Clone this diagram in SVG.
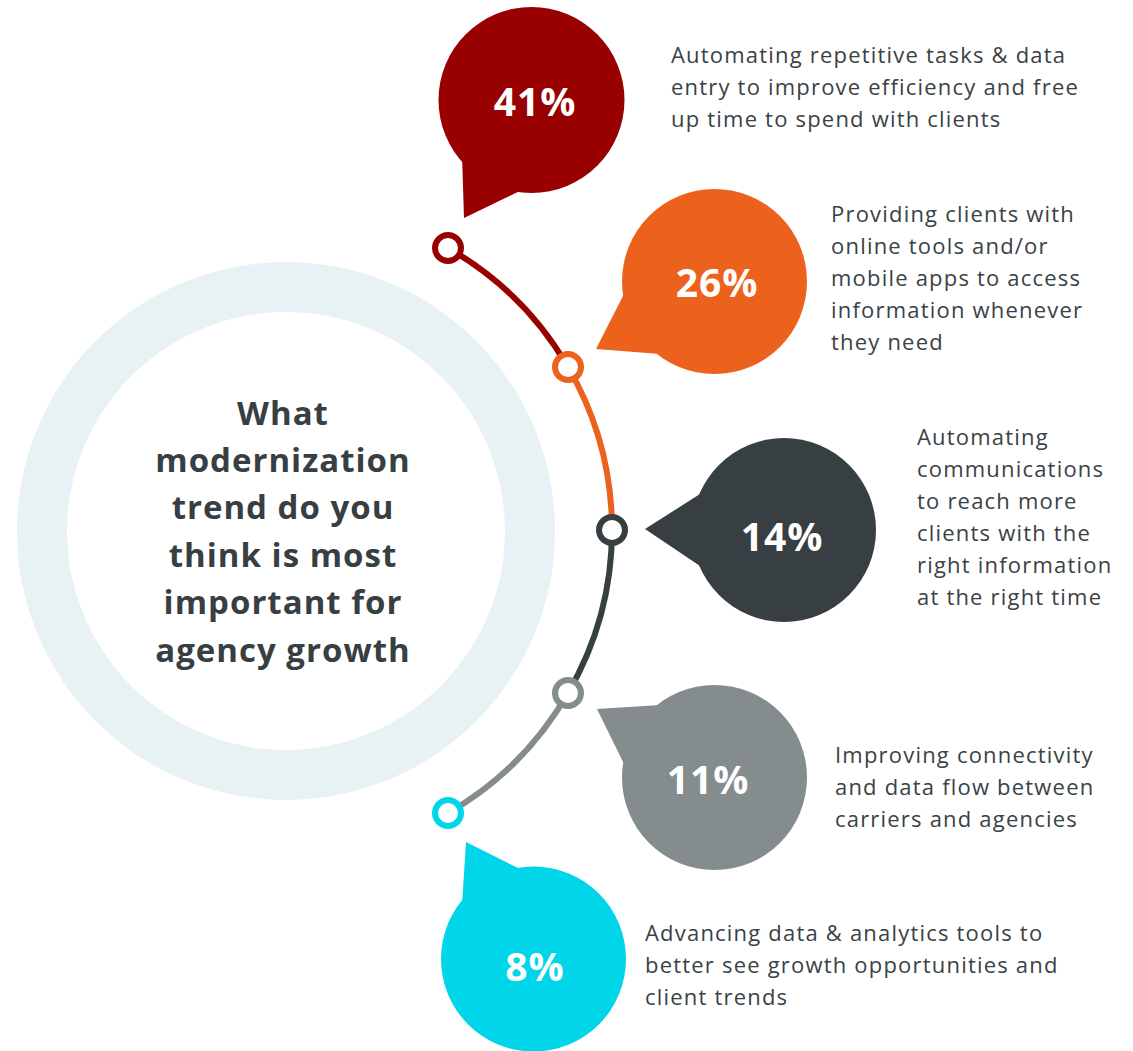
<svg xmlns="http://www.w3.org/2000/svg" width="1133" height="1051" viewBox="0 0 1133 1051">
<style>
.q{font-family:"Open Sans","Liberation Sans",sans-serif;font-weight:700;font-size:33px;letter-spacing:1px;fill:#373f42;text-anchor:middle}
.pct{font-family:"Open Sans","Liberation Sans",sans-serif;font-weight:700;font-size:39px;letter-spacing:1px;fill:#ffffff;text-anchor:middle}
.d{font-family:"Open Sans","Liberation Sans",sans-serif;font-size:22px;letter-spacing:1.2px;fill:#3a4245}
.node{fill:#ffffff;stroke-width:6}
.seg{fill:none;stroke-width:6}
</style>
<rect width="1133" height="1051" fill="#ffffff"/>
<g id="center-ring">
<circle cx="286" cy="531" r="244" fill="none" stroke="#e8f1f4" stroke-width="50"/>
<text class="q"><tspan x="283" y="425">What</tspan><tspan x="283" y="472">modernization</tspan><tspan x="283" y="519">trend do you</tspan><tspan x="283" y="567">think is most</tspan><tspan x="283" y="614">important for</tspan><tspan x="283" y="662">agency growth</tspan></text>
</g>
<g id="connectors">
<path class="seg" stroke="#990000" d="M448,248 A324.5,324.5 0 0 1 568,367"/>
<path class="seg" stroke="#ec621d" d="M568,367 A324.5,324.5 0 0 1 612,530"/>
<path class="seg" stroke="#373f42" d="M612,530 A324.5,324.5 0 0 1 568,693"/>
<path class="seg" stroke="#858c8e" d="M568,693 A324.5,324.5 0 0 1 448,813"/>
</g>
<g id="item-41">
<circle class="node" cx="448" cy="248" r="13" stroke="#990000"/>
<circle cx="531.5" cy="100" r="93" fill="#990000"/>
<polygon points="462,155 464,218 522,190" fill="#990000"/>
<text class="pct" x="535" y="116">41%</text>
<text class="d"><tspan x="671" y="63">Automating repetitive tasks &amp; data</tspan><tspan x="671" y="95">entry to improve efficiency and free</tspan><tspan x="671" y="127">up time to spend with clients</tspan></text>
</g>
<g id="item-26">
<circle class="node" cx="568" cy="367" r="13" stroke="#ec621d"/>
<circle cx="714.5" cy="281.5" r="92.5" fill="#ec621d"/>
<polygon points="625,292 596,349 660,354" fill="#ec621d"/>
<text class="pct" x="717" y="297">26%</text>
<text class="d"><tspan x="831" y="222">Providing clients with</tspan><tspan x="831" y="254">online tools and/or</tspan><tspan x="831" y="286">mobile apps to access</tspan><tspan x="831" y="318">information whenever</tspan><tspan x="831" y="350">they need</tspan></text>
</g>
<g id="item-14">
<circle class="node" cx="612" cy="530" r="13" stroke="#373f42"/>
<circle cx="784" cy="530" r="92" fill="#373f42"/>
<polygon points="700,494 645,529 700,566" fill="#373f42"/>
<text class="pct" x="782" y="551">14%</text>
<text class="d"><tspan x="917" y="445">Automating</tspan><tspan x="917" y="477">communications</tspan><tspan x="917" y="509">to reach more</tspan><tspan x="917" y="541">clients with the</tspan><tspan x="917" y="573">right information</tspan><tspan x="917" y="605">at the right time</tspan></text>
</g>
<g id="item-11">
<circle class="node" cx="568" cy="693" r="13" stroke="#858c8e"/>
<circle cx="714.5" cy="777.5" r="92.5" fill="#858c8e"/>
<polygon points="660,705 597,709 625,766" fill="#858c8e"/>
<text class="pct" x="708" y="794">11%</text>
<text class="d"><tspan x="835" y="763">Improving connectivity</tspan><tspan x="835" y="795">and data flow between</tspan><tspan x="835" y="827">carriers and agencies</tspan></text>
</g>
<g id="item-8">
<circle class="node" cx="448" cy="813" r="13" stroke="#00d5ea"/>
<circle cx="533.5" cy="959" r="92.5" fill="#00d5ea"/>
<polygon points="462,905 466,842 522,870" fill="#00d5ea"/>
<text class="pct" x="535" y="981">8%</text>
<text class="d"><tspan x="645" y="941">Advancing data &amp; analytics tools to</tspan><tspan x="645" y="973">better see growth opportunities and</tspan><tspan x="645" y="1005">client trends</tspan></text>
</g>
</svg>
